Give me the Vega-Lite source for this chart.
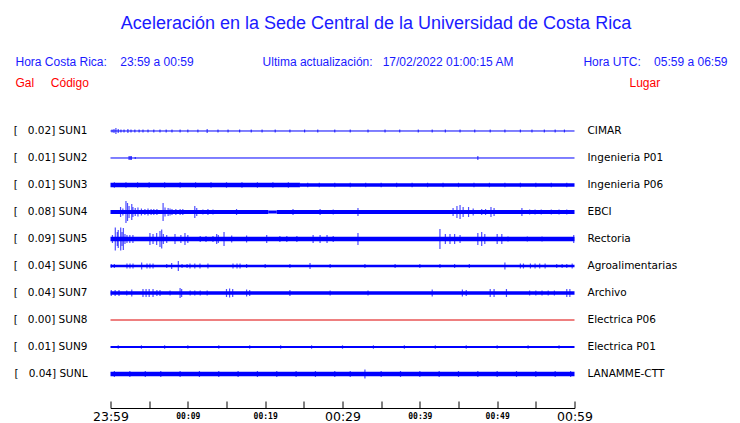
{
  "$schema": "https://vega.github.io/schema/vega-lite/v6.json",
  "width": 464,
  "height": 307,
  "autosize": {"type": "none"},
  "padding": {"left": 110.5, "top": 99, "right": 165.5, "bottom": 17},
  "background": "white",
  "config": {"view": {"stroke": null}},
  "title": {
    "text": "Aceleración en la Sede Central de la Universidad de Costa Rica",
    "anchor": "middle",
    "dx": 33.5,
    "offset": 22,
    "font": "Liberation Sans",
    "fontSize": 18,
    "fontWeight": "normal",
    "color": "#1a1aff"
  },
  "datasets": {
    "base": [
      {"s": "SUN1", "t0": 0, "t1": 60, "a": 1},
      {"s": "SUN2", "t0": 0, "t1": 60, "a": 1},
      {"s": "SUN3", "t0": 0, "t1": 24.5, "a": 4.5},
      {"s": "SUN3", "t0": 24.5, "t1": 60, "a": 3.5},
      {"s": "SUN4", "t0": 0, "t1": 20.4, "a": 4},
      {"s": "SUN4", "t0": 20.4, "t1": 21.5, "a": 3},
      {"s": "SUN4", "t0": 21.5, "t1": 60, "a": 4},
      {"s": "SUN5", "t0": 0, "t1": 60, "a": 4.5},
      {"s": "SUN6", "t0": 0, "t1": 60, "a": 2.5},
      {"s": "SUN7", "t0": 0, "t1": 60, "a": 3.5},
      {"s": "SUN8", "t0": 0, "t1": 60, "a": 1},
      {"s": "SUN9", "t0": 0, "t1": 60, "a": 2},
      {"s": "SUNL", "t0": 0, "t1": 60, "a": 4.5}
    ],
    "spk": [
      {"s": "SUN1", "t": 0.2, "a": 3}, {"s": "SUN1", "t": 0.45, "a": 4}, {"s": "SUN1", "t": 0.7, "a": 6}, {"s": "SUN1", "t": 1.0, "a": 4},
      {"s": "SUN1", "t": 1.35, "a": 3}, {"s": "SUN1", "t": 1.75, "a": 3}, {"s": "SUN1", "t": 2.25, "a": 4}, {"s": "SUN1", "t": 2.65, "a": 3},
      {"s": "SUN1", "t": 3.15, "a": 3}, {"s": "SUN1", "t": 3.7, "a": 3}, {"s": "SUN1", "t": 4.2, "a": 3}, {"s": "SUN1", "t": 4.85, "a": 3},
      {"s": "SUN1", "t": 5.6, "a": 3}, {"s": "SUN1", "t": 6.4, "a": 3}, {"s": "SUN1", "t": 7.2, "a": 3}, {"s": "SUN1", "t": 7.95, "a": 3},
      {"s": "SUN1", "t": 9.0, "a": 3}, {"s": "SUN1", "t": 10.0, "a": 3}, {"s": "SUN1", "t": 11.3, "a": 3}, {"s": "SUN1", "t": 12.5, "a": 4},
      {"s": "SUN1", "t": 13.9, "a": 3}, {"s": "SUN1", "t": 15.2, "a": 3}, {"s": "SUN1", "t": 16.7, "a": 3}, {"s": "SUN1", "t": 18.2, "a": 3},
      {"s": "SUN1", "t": 19.6, "a": 3}, {"s": "SUN1", "t": 21.3, "a": 3}, {"s": "SUN1", "t": 23.2, "a": 3}, {"s": "SUN1", "t": 25.1, "a": 3},
      {"s": "SUN1", "t": 26.8, "a": 3}, {"s": "SUN1", "t": 29.0, "a": 3}, {"s": "SUN1", "t": 31.0, "a": 3}, {"s": "SUN1", "t": 33.3, "a": 3},
      {"s": "SUN1", "t": 35.5, "a": 3}, {"s": "SUN1", "t": 37.4, "a": 3}, {"s": "SUN1", "t": 39.8, "a": 3}, {"s": "SUN1", "t": 41.6, "a": 3},
      {"s": "SUN1", "t": 43.3, "a": 3}, {"s": "SUN1", "t": 45.2, "a": 3}, {"s": "SUN1", "t": 47.1, "a": 3}, {"s": "SUN1", "t": 49.1, "a": 3},
      {"s": "SUN1", "t": 51.0, "a": 3}, {"s": "SUN1", "t": 53.0, "a": 3}, {"s": "SUN1", "t": 54.5, "a": 3}, {"s": "SUN1", "t": 56.1, "a": 3},
      {"s": "SUN1", "t": 57.5, "a": 3}, {"s": "SUN1", "t": 58.7, "a": 3},
      {"s": "SUN2", "t": 2.4, "a": 4}, {"s": "SUN2", "t": 2.55, "a": 4}, {"s": "SUN2", "t": 2.7, "a": 4}, {"s": "SUN2", "t": 3.2, "a": 2}, {"s": "SUN2", "t": 47.5, "a": 4},
      {"s": "SUN3", "t": 0.5, "a": 5.5}, {"s": "SUN3", "t": 2, "a": 5.5}, {"s": "SUN3", "t": 3.5, "a": 5.5}, {"s": "SUN3", "t": 5, "a": 5.5},
      {"s": "SUN3", "t": 7, "a": 5.5}, {"s": "SUN3", "t": 9, "a": 5.5}, {"s": "SUN3", "t": 11, "a": 5.5}, {"s": "SUN3", "t": 13, "a": 5.5},
      {"s": "SUN3", "t": 15, "a": 5.5}, {"s": "SUN3", "t": 17, "a": 5.5}, {"s": "SUN3", "t": 19, "a": 5.5}, {"s": "SUN3", "t": 21, "a": 5.5},
      {"s": "SUN3", "t": 23, "a": 5.5}, {"s": "SUN3", "t": 25.5, "a": 4.5}, {"s": "SUN3", "t": 27, "a": 4.5}, {"s": "SUN3", "t": 29, "a": 4.5},
      {"s": "SUN3", "t": 31, "a": 4.5}, {"s": "SUN3", "t": 33, "a": 4.5}, {"s": "SUN3", "t": 35, "a": 4.5}, {"s": "SUN3", "t": 37, "a": 4.5},
      {"s": "SUN3", "t": 39, "a": 4.5}, {"s": "SUN3", "t": 41, "a": 4.5}, {"s": "SUN3", "t": 43, "a": 4.5}, {"s": "SUN3", "t": 45, "a": 4.5},
      {"s": "SUN3", "t": 47, "a": 4.5}, {"s": "SUN3", "t": 49, "a": 4.5}, {"s": "SUN3", "t": 51, "a": 4.5}, {"s": "SUN3", "t": 53, "a": 4.5},
      {"s": "SUN3", "t": 55, "a": 4.5}, {"s": "SUN3", "t": 57, "a": 4.5}, {"s": "SUN3", "t": 59, "a": 4.5},
      {"s": "SUN4", "t": 1.3, "a": 10}, {"s": "SUN4", "t": 1.6, "a": 7}, {"s": "SUN4", "t": 2.0, "a": 22}, {"s": "SUN4", "t": 2.2, "a": 18},
      {"s": "SUN4", "t": 2.4, "a": 12}, {"s": "SUN4", "t": 2.75, "a": 16}, {"s": "SUN4", "t": 2.9, "a": 10}, {"s": "SUN4", "t": 3.2, "a": 8},
      {"s": "SUN4", "t": 3.55, "a": 9}, {"s": "SUN4", "t": 4.0, "a": 7}, {"s": "SUN4", "t": 4.45, "a": 6}, {"s": "SUN4", "t": 4.85, "a": 7},
      {"s": "SUN4", "t": 5.25, "a": 6}, {"s": "SUN4", "t": 5.6, "a": 6}, {"s": "SUN4", "t": 6.0, "a": 6}, {"s": "SUN4", "t": 6.8, "a": 18},
      {"s": "SUN4", "t": 7.05, "a": 9}, {"s": "SUN4", "t": 7.45, "a": 8}, {"s": "SUN4", "t": 7.7, "a": 7}, {"s": "SUN4", "t": 7.95, "a": 6},
      {"s": "SUN4", "t": 8.45, "a": 6}, {"s": "SUN4", "t": 9.0, "a": 6}, {"s": "SUN4", "t": 9.35, "a": 6}, {"s": "SUN4", "t": 10.9, "a": 12},
      {"s": "SUN4", "t": 11.15, "a": 8}, {"s": "SUN4", "t": 11.95, "a": 5}, {"s": "SUN4", "t": 12.6, "a": 6}, {"s": "SUN4", "t": 13.25, "a": 5},
      {"s": "SUN4", "t": 16.3, "a": 6}, {"s": "SUN4", "t": 23.6, "a": 6}, {"s": "SUN4", "t": 27.1, "a": 6}, {"s": "SUN4", "t": 28.8, "a": 5},
      {"s": "SUN4", "t": 31.4, "a": 4}, {"s": "SUN4", "t": 32.0, "a": 8}, {"s": "SUN4", "t": 44.3, "a": 8}, {"s": "SUN4", "t": 44.8, "a": 12},
      {"s": "SUN4", "t": 45.2, "a": 14}, {"s": "SUN4", "t": 45.6, "a": 10}, {"s": "SUN4", "t": 46.3, "a": 10}, {"s": "SUN4", "t": 46.9, "a": 7},
      {"s": "SUN4", "t": 48.0, "a": 6}, {"s": "SUN4", "t": 48.5, "a": 6}, {"s": "SUN4", "t": 49.2, "a": 10}, {"s": "SUN4", "t": 49.6, "a": 8},
      {"s": "SUN4", "t": 53.2, "a": 8}, {"s": "SUN4", "t": 54.2, "a": 5}, {"s": "SUN4", "t": 54.9, "a": 5}, {"s": "SUN4", "t": 55.7, "a": 5},
      {"s": "SUN4", "t": 57.0, "a": 5}, {"s": "SUN4", "t": 58.0, "a": 5}, {"s": "SUN4", "t": 59.0, "a": 5},
      {"s": "SUN5", "t": 0.25, "a": 8}, {"s": "SUN5", "t": 0.62, "a": 23}, {"s": "SUN5", "t": 0.88, "a": 14}, {"s": "SUN5", "t": 1.0, "a": 18},
      {"s": "SUN5", "t": 1.32, "a": 23}, {"s": "SUN5", "t": 1.49, "a": 14}, {"s": "SUN5", "t": 1.66, "a": 22}, {"s": "SUN5", "t": 1.87, "a": 10},
      {"s": "SUN5", "t": 2.13, "a": 8}, {"s": "SUN5", "t": 2.5, "a": 8}, {"s": "SUN5", "t": 2.9, "a": 8}, {"s": "SUN5", "t": 5.1, "a": 12},
      {"s": "SUN5", "t": 5.5, "a": 10}, {"s": "SUN5", "t": 5.97, "a": 12}, {"s": "SUN5", "t": 6.4, "a": 16}, {"s": "SUN5", "t": 6.62, "a": 19},
      {"s": "SUN5", "t": 6.83, "a": 10}, {"s": "SUN5", "t": 7.27, "a": 8}, {"s": "SUN5", "t": 8.34, "a": 10}, {"s": "SUN5", "t": 9.1, "a": 8},
      {"s": "SUN5", "t": 9.63, "a": 12}, {"s": "SUN5", "t": 10.0, "a": 8}, {"s": "SUN5", "t": 11.6, "a": 6}, {"s": "SUN5", "t": 12.35, "a": 6},
      {"s": "SUN5", "t": 13.25, "a": 6}, {"s": "SUN5", "t": 13.73, "a": 10}, {"s": "SUN5", "t": 13.94, "a": 8}, {"s": "SUN5", "t": 14.68, "a": 14},
      {"s": "SUN5", "t": 15.67, "a": 7}, {"s": "SUN5", "t": 17.6, "a": 7}, {"s": "SUN5", "t": 20.2, "a": 8}, {"s": "SUN5", "t": 21.9, "a": 6},
      {"s": "SUN5", "t": 22.8, "a": 6}, {"s": "SUN5", "t": 24.1, "a": 6}, {"s": "SUN5", "t": 26.2, "a": 8}, {"s": "SUN5", "t": 27.1, "a": 8},
      {"s": "SUN5", "t": 28.0, "a": 8}, {"s": "SUN5", "t": 28.8, "a": 6}, {"s": "SUN5", "t": 32.0, "a": 12}, {"s": "SUN5", "t": 42.6, "a": 20},
      {"s": "SUN5", "t": 43.3, "a": 10}, {"s": "SUN5", "t": 43.9, "a": 10}, {"s": "SUN5", "t": 44.5, "a": 10}, {"s": "SUN5", "t": 45.2, "a": 8},
      {"s": "SUN5", "t": 47.5, "a": 12}, {"s": "SUN5", "t": 48.0, "a": 14}, {"s": "SUN5", "t": 48.4, "a": 10}, {"s": "SUN5", "t": 50.0, "a": 10},
      {"s": "SUN5", "t": 50.6, "a": 10}, {"s": "SUN5", "t": 51.4, "a": 5}, {"s": "SUN5", "t": 53.9, "a": 5}, {"s": "SUN5", "t": 55.8, "a": 5},
      {"s": "SUN5", "t": 59.9, "a": 8},
      {"s": "SUN6", "t": 0.1, "a": 4}, {"s": "SUN6", "t": 0.5, "a": 4}, {"s": "SUN6", "t": 2.13, "a": 5}, {"s": "SUN6", "t": 2.52, "a": 5},
      {"s": "SUN6", "t": 2.91, "a": 5}, {"s": "SUN6", "t": 4.03, "a": 7}, {"s": "SUN6", "t": 4.72, "a": 5}, {"s": "SUN6", "t": 5.1, "a": 5},
      {"s": "SUN6", "t": 5.5, "a": 5}, {"s": "SUN6", "t": 7.27, "a": 4}, {"s": "SUN6", "t": 7.91, "a": 6}, {"s": "SUN6", "t": 8.77, "a": 10},
      {"s": "SUN6", "t": 9.25, "a": 4}, {"s": "SUN6", "t": 9.9, "a": 4}, {"s": "SUN6", "t": 10.28, "a": 5}, {"s": "SUN6", "t": 10.9, "a": 5},
      {"s": "SUN6", "t": 11.57, "a": 5}, {"s": "SUN6", "t": 12.6, "a": 5}, {"s": "SUN6", "t": 15.84, "a": 5}, {"s": "SUN6", "t": 16.36, "a": 5},
      {"s": "SUN6", "t": 16.75, "a": 5}, {"s": "SUN6", "t": 17.6, "a": 4}, {"s": "SUN6", "t": 20, "a": 4}, {"s": "SUN6", "t": 23.2, "a": 4},
      {"s": "SUN6", "t": 25.8, "a": 6}, {"s": "SUN6", "t": 28.4, "a": 4}, {"s": "SUN6", "t": 32.9, "a": 4}, {"s": "SUN6", "t": 36.8, "a": 4},
      {"s": "SUN6", "t": 40, "a": 4}, {"s": "SUN6", "t": 42.6, "a": 4}, {"s": "SUN6", "t": 44.5, "a": 4}, {"s": "SUN6", "t": 46.4, "a": 4},
      {"s": "SUN6", "t": 51, "a": 7}, {"s": "SUN6", "t": 53, "a": 5}, {"s": "SUN6", "t": 53.4, "a": 5}, {"s": "SUN6", "t": 54.3, "a": 5},
      {"s": "SUN6", "t": 54.9, "a": 5}, {"s": "SUN6", "t": 55.5, "a": 5}, {"s": "SUN6", "t": 56.2, "a": 5}, {"s": "SUN6", "t": 57.7, "a": 4},
      {"s": "SUN6", "t": 58.4, "a": 4}, {"s": "SUN6", "t": 59, "a": 4}, {"s": "SUN6", "t": 59.7, "a": 5},
      {"s": "SUN7", "t": 0.1, "a": 6}, {"s": "SUN7", "t": 0.6, "a": 6}, {"s": "SUN7", "t": 1.1, "a": 6}, {"s": "SUN7", "t": 2.1, "a": 5},
      {"s": "SUN7", "t": 2.75, "a": 7}, {"s": "SUN7", "t": 4.2, "a": 8}, {"s": "SUN7", "t": 4.6, "a": 8}, {"s": "SUN7", "t": 5.0, "a": 8},
      {"s": "SUN7", "t": 5.5, "a": 8}, {"s": "SUN7", "t": 6.0, "a": 6}, {"s": "SUN7", "t": 6.4, "a": 6}, {"s": "SUN7", "t": 7.7, "a": 5},
      {"s": "SUN7", "t": 9.0, "a": 10}, {"s": "SUN7", "t": 9.2, "a": 8}, {"s": "SUN7", "t": 10.3, "a": 5}, {"s": "SUN7", "t": 10.9, "a": 5},
      {"s": "SUN7", "t": 11.6, "a": 5}, {"s": "SUN7", "t": 12.5, "a": 5}, {"s": "SUN7", "t": 15.0, "a": 8}, {"s": "SUN7", "t": 15.4, "a": 9},
      {"s": "SUN7", "t": 15.8, "a": 8}, {"s": "SUN7", "t": 17.6, "a": 7}, {"s": "SUN7", "t": 18.0, "a": 6}, {"s": "SUN7", "t": 23.2, "a": 6},
      {"s": "SUN7", "t": 28.4, "a": 5}, {"s": "SUN7", "t": 33.3, "a": 5}, {"s": "SUN7", "t": 41.6, "a": 7}, {"s": "SUN7", "t": 45.5, "a": 7},
      {"s": "SUN7", "t": 46.0, "a": 6}, {"s": "SUN7", "t": 49.1, "a": 8}, {"s": "SUN7", "t": 49.6, "a": 8}, {"s": "SUN7", "t": 51.2, "a": 8},
      {"s": "SUN7", "t": 54.2, "a": 5}, {"s": "SUN7", "t": 55.0, "a": 5}, {"s": "SUN7", "t": 55.8, "a": 5}, {"s": "SUN7", "t": 56.6, "a": 5},
      {"s": "SUN7", "t": 57.4, "a": 5}, {"s": "SUN7", "t": 59.0, "a": 8}, {"s": "SUN7", "t": 59.4, "a": 8},
      {"s": "SUN9", "t": 1, "a": 3.5}, {"s": "SUN9", "t": 4, "a": 3.5}, {"s": "SUN9", "t": 7, "a": 3.5}, {"s": "SUN9", "t": 10, "a": 3.5},
      {"s": "SUN9", "t": 14, "a": 3.5}, {"s": "SUN9", "t": 18, "a": 3.5}, {"s": "SUN9", "t": 22, "a": 3.5}, {"s": "SUN9", "t": 26, "a": 3.5},
      {"s": "SUN9", "t": 30, "a": 3.5}, {"s": "SUN9", "t": 34, "a": 3.5}, {"s": "SUN9", "t": 38, "a": 3.5}, {"s": "SUN9", "t": 42, "a": 3.5},
      {"s": "SUN9", "t": 46, "a": 3.5}, {"s": "SUN9", "t": 50, "a": 3.5}, {"s": "SUN9", "t": 54, "a": 3.5}, {"s": "SUN9", "t": 58, "a": 3.5},
      {"s": "SUNL", "t": 0.5, "a": 6}, {"s": "SUNL", "t": 2.5, "a": 6}, {"s": "SUNL", "t": 4.5, "a": 6}, {"s": "SUNL", "t": 6.5, "a": 6},
      {"s": "SUNL", "t": 9, "a": 6}, {"s": "SUNL", "t": 11.5, "a": 6}, {"s": "SUNL", "t": 14, "a": 6}, {"s": "SUNL", "t": 16.5, "a": 6},
      {"s": "SUNL", "t": 19, "a": 6}, {"s": "SUNL", "t": 21.5, "a": 6}, {"s": "SUNL", "t": 24, "a": 6}, {"s": "SUNL", "t": 26.5, "a": 6},
      {"s": "SUNL", "t": 29, "a": 6}, {"s": "SUNL", "t": 31, "a": 6}, {"s": "SUNL", "t": 32.9, "a": 9}, {"s": "SUNL", "t": 35, "a": 6},
      {"s": "SUNL", "t": 37.5, "a": 6}, {"s": "SUNL", "t": 40, "a": 6}, {"s": "SUNL", "t": 42.5, "a": 6}, {"s": "SUNL", "t": 45, "a": 6},
      {"s": "SUNL", "t": 47.5, "a": 6}, {"s": "SUNL", "t": 50, "a": 6}, {"s": "SUNL", "t": 52.5, "a": 6}, {"s": "SUNL", "t": 55, "a": 6},
      {"s": "SUNL", "t": 57.5, "a": 6}, {"s": "SUNL", "t": 59.5, "a": 6}
    ]
  },
  "layer": [
    {
      "data": {"name": "base"},
      "mark": {"type": "rule", "strokeCap": "butt"},
      "encoding": {
        "x": {
          "field": "t0", "type": "quantitative",
          "scale": {"domain": [0, 60], "nice": false, "zero": false},
          "axis": {
            "orient": "bottom",
            "offset": 2,
            "values": [0, 5, 10, 15, 20, 25, 30, 35, 40, 45, 50, 55, 60],
            "labelExpr": "['23:59','','00:09','','00:19','','00:29','','00:39','','00:49','','00:59'][datum.value/5]",
            "grid": false,
            "domain": true,
            "domainColor": "#000000",
            "domainWidth": 1,
            "tickColor": "#000000",
            "tickSize": -7,
            "labelColor": "#000000",
            "labelFont": {"condition": {"test": "datum.value % 30 === 0", "value": "DejaVu Sans"}, "value": "DejaVu Sans Mono"},
            "labelFontSize": {"condition": {"test": "datum.value % 30 === 0", "value": 12.5}, "value": 8},
            "labelFontWeight": {"condition": {"test": "datum.value % 30 === 0", "value": "normal"}, "value": "bold"},
            "labelBaseline": "middle",
            "labelPadding": 15,
            "labelFlush": false,
            "labelOverlap": false,
            "title": "Hora Costa Rica:\u00a0\u00a0\u00a0\u00a023:59 a 00:59",
            "titleFont": "Liberation Sans",
            "titleFontSize": 12,
            "titleFontWeight": "normal",
            "titleColor": "#1a1aff",
            "titleAlign": "left",
            "titleBaseline": "middle",
            "titleAnchor": "start",
            "titleX": -95.5,
            "titleY": -347
          }
        },
        "x2": {"field": "t1"},
        "y": {
          "field": "s", "type": "nominal",
          "scale": {"domain": ["SUN1", "SUN2", "SUN3", "SUN4", "SUN5", "SUN6", "SUN7", "SUN8", "SUN9", "SUNL"], "paddingInner": 0, "paddingOuter": 0.685},
          "axis": {
            "orient": "left",
            "ticks": false,
            "domain": false,
            "grid": false,
            "labelExpr": "'[\u00a0\u00a0\u00a0' + ['0.02','0.01','0.01','0.08','0.09','0.04','0.04','0.00','0.01','0.04'][indexof(['SUN1','SUN2','SUN3','SUN4','SUN5','SUN6','SUN7','SUN8','SUN9','SUNL'], datum.value)] + '] ' + datum.value",
            "labelFont": "DejaVu Sans",
            "labelFontSize": 10.5,
            "labelColor": "#000000",
            "labelAlign": "right",
            "labelPadding": 23.5,
            "title": "Gal\u00a0\u00a0\u00a0\u00a0\u00a0Código",
            "titleFont": "Liberation Sans",
            "titleFontSize": 12,
            "titleFontWeight": "normal",
            "titleColor": "#ff0000",
            "titleAngle": 0,
            "titleAlign": "left",
            "titleBaseline": "middle",
            "titleX": -95.5,
            "titleY": -17
          }
        },
        "size": {"field": "a", "type": "quantitative", "scale": {"domain": [0, 27], "range": [0, 27], "zero": true}, "legend": null},
        "color": {"condition": {"test": "datum.s === 'SUN8'", "value": "#dd0000"}, "value": "#0000ff"}
      }
    },
    {
      "data": {"name": "spk"},
      "mark": {"type": "tick", "thickness": 1.2},
      "encoding": {
        "x": {
          "field": "t", "type": "quantitative",
          "axis": {
            "orient": "top",
            "labels": false, "ticks": false, "domain": false, "grid": false,
            "title": "Ultima actualización:\u00a0\u00a0\u00a017/02/2022 01:00:15 AM\u00a0\u00a0\u00a0\u00a0\u00a0\u00a0\u00a0\u00a0\u00a0\u00a0\u00a0\u00a0\u00a0\u00a0\u00a0\u00a0\u00a0\u00a0\u00a0\u00a0\u00a0Hora UTC:\u00a0\u00a0\u00a0\u00a005:59 a 06:59",
            "titleFont": "Liberation Sans",
            "titleFontSize": 12,
            "titleFontWeight": "normal",
            "titleColor": "#1a1aff",
            "titleAlign": "right",
            "titleBaseline": "middle",
            "titleX": 616.5,
            "titleY": -38
          }
        },
        "y": {
          "field": "s", "type": "nominal",
          "axis": {
            "orient": "right",
            "ticks": false,
            "domain": false,
            "grid": false,
            "labelExpr": "['CIMAR','Ingenieria P01','Ingenieria P06','EBCI','Rectoria','Agroalimentarias','Archivo','Electrica P06','Electrica P01','LANAMME-CTT'][indexof(['SUN1','SUN2','SUN3','SUN4','SUN5','SUN6','SUN7','SUN8','SUN9','SUNL'], datum.value)]",
            "labelFont": "DejaVu Sans",
            "labelFontSize": 10.5,
            "labelColor": "#000000",
            "labelAlign": "left",
            "labelPadding": 12.5,
            "title": "Lugar",
            "titleFont": "Liberation Sans",
            "titleFontSize": 12,
            "titleFontWeight": "normal",
            "titleColor": "#ff0000",
            "titleAngle": 0,
            "titleAlign": "left",
            "titleBaseline": "middle",
            "titleX": 54.5,
            "titleY": -17
          }
        },
        "size": {"field": "a", "type": "quantitative", "legend": null},
        "color": {"condition": {"test": "datum.s === 'SUN8'", "value": "#dd0000"}, "value": "#0000ff"}
      }
    }
  ],
  "resolve": {"axis": {"x": "independent", "y": "independent"}}
}
